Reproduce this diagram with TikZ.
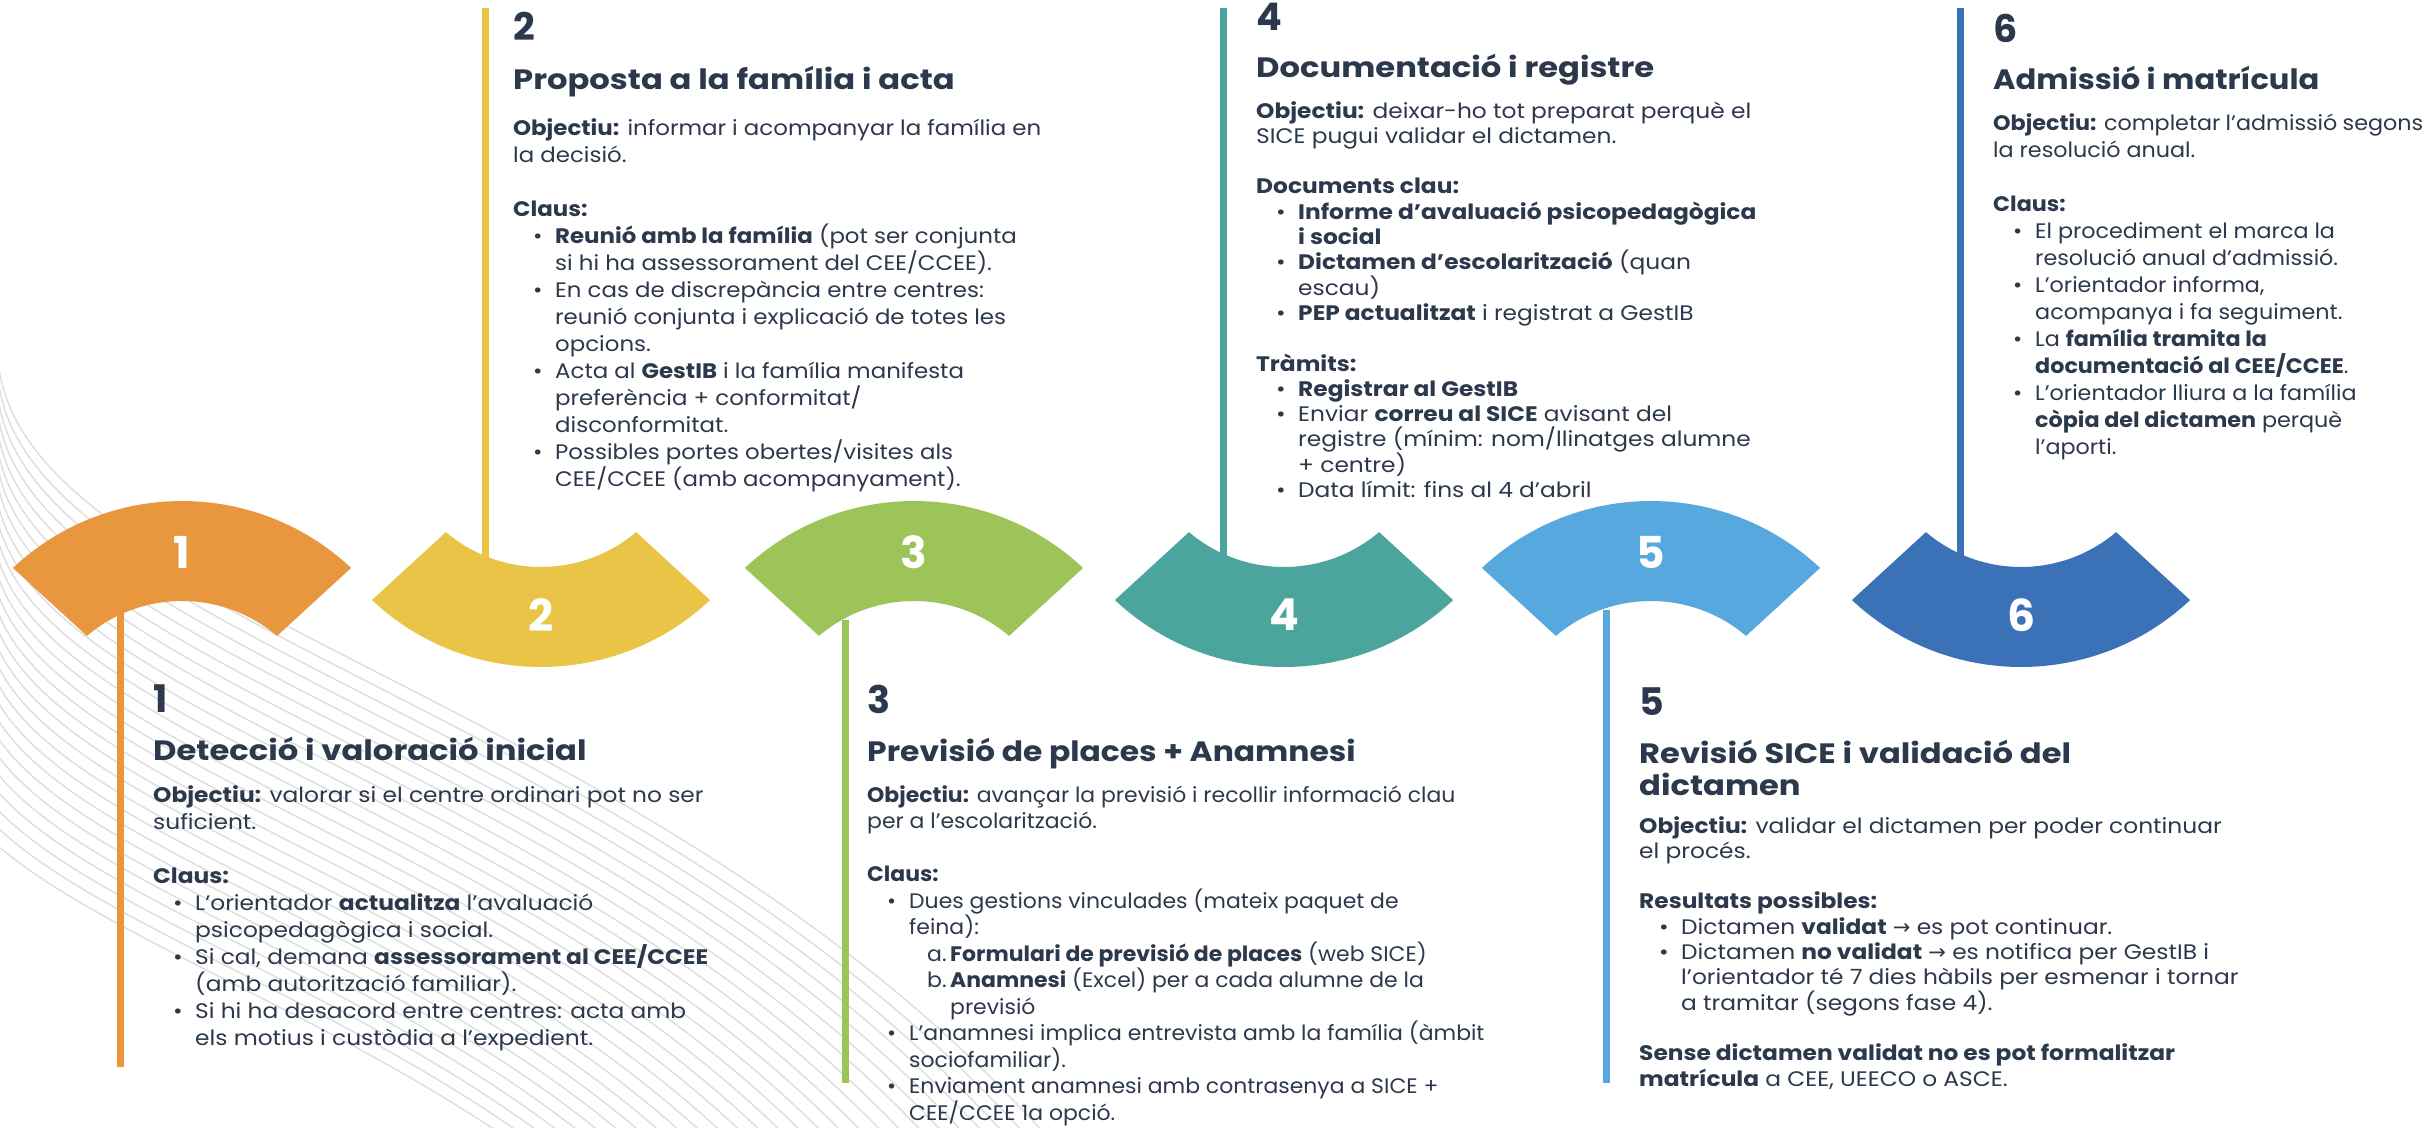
\documentclass[tikz,border=0pt]{standalone}
\usepackage{fontspec}
\setmainfont{Poppins}
\newfontfamily\fontB{Poppins}[FakeStretch=1.11]
\newfontfamily\fontBB{Poppins}[FakeStretch=1.09]
\newfontfamily\fontC{Poppins}[FakeStretch=1.045]
\newfontfamily\fontD{Poppins}[FakeStretch=1.06]
\newfontfamily\fontT{Poppins}[FakeStretch=1.15]
\newfontfamily\fontTC{Poppins}[FakeStretch=1.12]
\newfontfamily\fontTD{Poppins}[FakeStretch=1.09]
\newfontfamily\arrowfont{DejaVu Sans}
\definecolor{ink}{HTML}{2C384B}
\definecolor{c1}{HTML}{E8973F}
\definecolor{c2}{HTML}{E9C447}
\definecolor{c3}{HTML}{9DC459}
\definecolor{c4}{HTML}{4BA59C}
\definecolor{c5}{HTML}{56A8DE}
\definecolor{c6}{HTML}{3A71B7}
\definecolor{wavegray}{HTML}{DDDDDD}
\newcommand\itm{\makebox[42pt][l]{\hspace*{20pt}•}}
\newcommand\cont{\hspace*{42pt}}
\newcommand\subitm[1]{\makebox[83pt][l]{\hspace*{60pt}#1}}
\newcommand\arr{{\arrowfont →}}
\newcommand\archup[2]{%
  \begin{scope}[shift={(#1,748)}, y=1pt]
    \fill[#2] (46.8:247) arc[start angle=46.8, end angle=133.2, radius=247]
      -- (130.3:147) arc[start angle=130.3, end angle=49.7, radius=147] -- cycle;
  \end{scope}}
\newcommand\archdown[2]{%
  \begin{scope}[shift={(#1,420)}, y=1pt, yscale=-1]
    \fill[#2] (46.8:247) arc[start angle=46.8, end angle=133.2, radius=247]
      -- (130.3:147) arc[start angle=130.3, end angle=49.7, radius=147] -- cycle;
  \end{scope}}
\tikzset{
  txt/.style={anchor=base west, inner sep=0pt, text=ink},
  body/.style={txt, font=\fontB\fontsize{21}{27}\selectfont},
  bodyb/.style={txt, font=\fontBB\fontsize{21}{27}\selectfont},
  bodyc/.style={txt, font=\fontC\fontsize{21}{26.5}\selectfont},
  bodyd/.style={txt, font=\fontD\fontsize{21}{27}\selectfont},
  bodytight/.style={txt, font=\fontB\fontsize{21}{25.3}\selectfont},
  ttl/.style={txt, font=\fontT\fontsize{28}{32}\selectfont\bfseries},
  ttlc/.style={txt, font=\fontTC\fontsize{28}{32}\selectfont\bfseries},
  ttld/.style={txt, font=\fontTD\fontsize{28}{32}\selectfont\bfseries},
  num/.style={txt, font=\fontsize{38}{40}\selectfont\bfseries},
  shapenum/.style={inner sep=0pt, text=white, font=\fontsize{44}{44}\selectfont\bfseries},
  bar/.style={line width=7pt},
  wave/.style={draw=wavegray, line width=1.4pt}
}
\begin{document}
\begin{tikzpicture}[x=1pt,y=-1pt]
\useasboundingbox (0,0) rectangle (2425,1127);
\fill[white] (0,0) rectangle (2425,1127);
% background waves
\begin{scope}
\clip (0,0) rectangle (2425,1127);
\foreach \k in {0,...,27} {
  \draw[wave] (-2,{360+18*\k}) .. controls ({20+3*\k},{610+12*\k}) and ({650-12*\k},{690+12*\k}) .. ({1050-20*\k},1140);
}
\end{scope}
% bars (connectors)
\coordinate (b1a) at (120,612);  \coordinate (b1b) at (120,1067);
\coordinate (b2a) at (485,8);    \coordinate (b2b) at (485,560);
\coordinate (b3a) at (845,620);  \coordinate (b3b) at (845,1083);
\coordinate (b4a) at (1223,8);   \coordinate (b4b) at (1223,557);
\coordinate (b5a) at (1606,610); \coordinate (b5b) at (1606,1083);
\coordinate (b6a) at (1960,8);   \coordinate (b6b) at (1960,557);
\draw[bar,c1] (b1a) -- (b1b);
\draw[bar,c2] (b2a) -- (b2b);
\draw[bar,c3] (b3a) -- (b3b);
\draw[bar,c4] (b4a) -- (b4b);
\draw[bar,c5] (b5a) -- (b5b);
\draw[bar,c6] (b6a) -- (b6b);
% arch shapes
\archup{182}{c1}
\archdown{541}{c2}
\archup{914}{c3}
\archdown{1284}{c4}
\archup{1651}{c5}
\archdown{2021}{c6}
\node[shapenum] (s1) at (182,552) {1};
\node[shapenum] (s2) at (541,615) {2};
\node[shapenum] (s3) at (914,552) {3};
\node[shapenum] (s4) at (1284,615) {4};
\node[shapenum] (s5) at (1651,552) {5};
\node[shapenum] (s6) at (2021,615) {6};
% block 1
\node[num] (n1) at (153,712) {1};
\node[ttl] (t1) at (153,760) {Detecció i valoració inicial};
\node[body] (d1) at (153,802) {\parbox[t]{700pt}{\textbf{Objectiu:} valorar si el centre ordinari pot no ser\\
suficient.\\
\mbox{}\\
\textbf{Claus:}\\
\itm L’orientador \textbf{actualitza} l’avaluació\\
\cont psicopedagògica i social.\\
\itm Si cal, demana \textbf{assessorament al CEE/CCEE}\\
\cont (amb autorització familiar).\\
\itm Si hi ha desacord entre centres: acta amb\\
\cont els motius i custòdia a l’expedient.}};
% block 2
\node[num] (n2) at (513,40) {2};
\node[ttl] (t2) at (513,89) {Proposta a la família i acta};
\node[bodyb] (d2) at (513,135) {\parbox[t]{700pt}{\textbf{Objectiu:} informar i acompanyar la família en\\
la decisió.\\
\mbox{}\\
\textbf{Claus:}\\
\itm \textbf{Reunió amb la família} (pot ser conjunta\\
\cont si hi ha assessorament del CEE/CCEE).\\
\itm En cas de discrepància entre centres:\\
\cont reunió conjunta i explicació de totes les\\
\cont opcions.\\
\itm Acta al \textbf{GestIB} i la família manifesta\\
\cont preferència + conformitat/\\
\cont disconformitat.\\
\itm Possibles portes obertes/visites als\\
\cont CEE/CCEE (amb acompanyament).}};
% block 3
\node[num] (n3) at (867,713) {3};
\node[ttlc] (t3) at (867,761) {Previsió de places + Anamnesi};
\node[bodyc] (d3) at (867,802) {\parbox[t]{700pt}{\textbf{Objectiu:} avançar la previsió i recollir informació clau\\
per a l’escolarització.\\
\mbox{}\\
\textbf{Claus:}\\
\itm Dues gestions vinculades (mateix paquet de\\
\cont feina):\\
\subitm{a.}\textbf{Formulari de previsió de places} (web SICE)\\
\subitm{b.}\textbf{Anamnesi} (Excel) per a cada alumne de la\\
\hspace*{83pt}previsió\\
\itm L’anamnesi implica entrevista amb la família (àmbit\\
\cont sociofamiliar).\\
\itm Enviament anamnesi amb contrasenya a SICE +\\
\cont CEE/CCEE 1a opció.}};
% block 4
\node[num] (n4) at (1256,30) {4};
\node[ttl] (t4) at (1256,77) {Documentació i registre};
\node[bodytight] (d4) at (1256,118) {\parbox[t]{700pt}{\textbf{Objectiu:} deixar-ho tot preparat perquè el\\
SICE pugui validar el dictamen.\\
\mbox{}\\
\textbf{Documents clau:}\\
\itm \textbf{Informe d’avaluació psicopedagògica}\\
\cont \textbf{i social}\\
\itm \textbf{Dictamen d’escolarització} (quan\\
\cont escau)\\
\itm \textbf{PEP actualitzat} i registrat a GestIB\\
\mbox{}\\
\textbf{Tràmits:}\\
\itm \textbf{Registrar al GestIB}\\
\itm Enviar \textbf{correu al SICE} avisant del\\
\cont registre (mínim: nom/llinatges alumne\\
\cont + centre)\\
\itm Data límit: fins al 4 d’abril}};
% block 5
\node[num] (n5) at (1639,715) {5};
\node[ttl] (t5) at (1639,763) {Revisió SICE i validació del};
\node[ttl] (t5b) at (1639,795) {dictamen};
\node[bodytight] (d5) at (1639,833) {\parbox[t]{740pt}{\textbf{Objectiu:} validar el dictamen per poder continuar\\
el procés.\\
\mbox{}\\
\textbf{Resultats possibles:}\\
\itm Dictamen \textbf{validat} \arr{} es pot continuar.\\
\itm Dictamen \textbf{no validat} \arr{} es notifica per GestIB i\\
\cont l’orientador té 7 dies hàbils per esmenar i tornar\\
\cont a tramitar (segons fase 4).\\
\mbox{}\\
\textbf{Sense dictamen validat no es pot formalitzar}\\
\textbf{matrícula} a CEE, UEECO o ASCE.}};
% block 6
\node[num] (n6) at (1993,42) {6};
\node[ttld] (t6) at (1993,89) {Admissió i matrícula};
\node[bodyd] (d6) at (1993,130) {\parbox[t]{430pt}{\textbf{Objectiu:} completar l’admissió segons\\
la resolució anual.\\
\mbox{}\\
\textbf{Claus:}\\
\itm El procediment el marca la\\
\cont resolució anual d’admissió.\\
\itm L’orientador informa,\\
\cont acompanya i fa seguiment.\\
\itm La \textbf{família tramita la}\\
\cont \textbf{documentació al CEE/CCEE}.\\
\itm L’orientador lliura a la família\\
\cont \textbf{còpia del dictamen} perquè\\
\cont l’aporti.}};
\end{tikzpicture}
\end{document}
